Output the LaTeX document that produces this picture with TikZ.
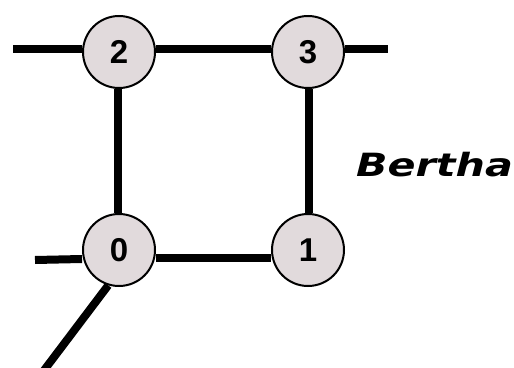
\documentclass[tikz,border=0pt]{standalone}
\usepackage{fontspec}
\setsansfont{Liberation Sans}
\newfontfamily\namefont{DejaVu Sans}
\usepackage{graphicx}
\definecolor{nodefill}{RGB}{225,218,220}
\tikzset{
  vertex/.style={circle, draw=black, line width=2pt, fill=nodefill, minimum size=72pt, inner sep=0pt, font=\sffamily\bfseries\fontsize{33}{33}\selectfont},
  link/.style={line width=8pt, black},
  hostname/.style={anchor=base west, inner sep=0pt, font=\namefont\bfseries\itshape\fontsize{32}{32}\selectfont}
}

\begin{document}
\begin{tikzpicture}[x=1pt, y=-1pt]
  \useasboundingbox (0,0) rectangle (514,367);
  % router ring
  \node[vertex] (n2) at (119,52) {2};
  \node[vertex] (n3) at (308,52) {3};
  \node[vertex] (n0) at (119,250) {0};
  \node[vertex] (n1) at (308,250) {1};
  \coordinate (w2) at (13,49);
  \coordinate (e3) at (388,49);
  \coordinate (w0) at (35,260);
  \coordinate (sw0) at (42,373);
  \draw[link] ([yshift=3pt]n2.east) -- ([yshift=3pt]n3.west);
  \draw[link] (w2) -- ([yshift=3pt]n2.west);
  \draw[link] ([yshift=3pt]n3.east) -- (e3);
  \draw[link] ([xshift=-1pt]n2.south) -- ([xshift=-1pt]n0.north);
  \draw[link] ([xshift=1pt]n3.south) -- ([xshift=1pt]n1.north);
  \draw[link] ([yshift=-8pt]n0.east) -- ([yshift=-8pt]n1.west);
  \draw[link] (w0) -- ([yshift=-9pt]n0.west);
  \draw[link] (n0.-107) -- (sw0);
  \node[hostname] (bertha) at (356,176) {\scalebox{1.29}[1]{Bertha}};
\end{tikzpicture}
\end{document}
